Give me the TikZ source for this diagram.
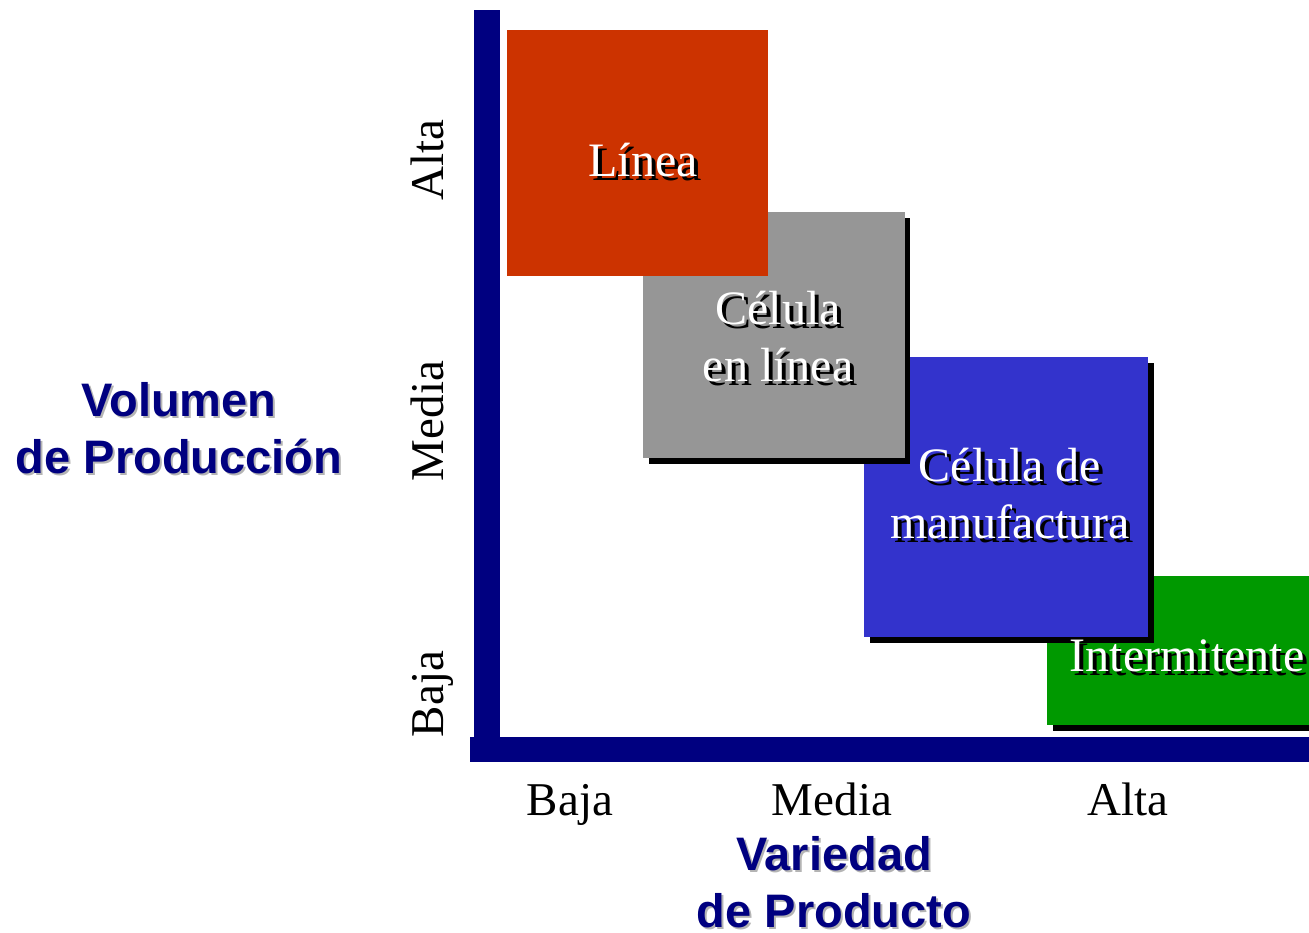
\documentclass[tikz,border=0pt]{standalone}
\usepackage{fontspec}
\setmainfont{Liberation Serif}
\setsansfont{Liberation Sans}
\definecolor{navy}{HTML}{000080}
\definecolor{cred}{HTML}{CC3300}
\definecolor{cgray}{HTML}{969696}
\definecolor{cblue}{HTML}{3333CC}
\definecolor{cgreen}{HTML}{009900}
\definecolor{tshadow}{HTML}{B4B4B4}
\begin{document}
\begin{tikzpicture}[x=1pt,y=-1pt,
  boxtxt/.style={text=white,font=\fontsize{48}{57}\selectfont,align=center,inner sep=0pt},
  boxsh/.style={text=black,font=\fontsize{48}{57}\selectfont,align=center,inner sep=0pt},
  ticklbl/.style={text=black,font=\fontsize{47}{56}\selectfont,inner sep=0pt,anchor=base},
  title/.style={text=navy,font=\sffamily\bfseries\fontsize{47}{57}\selectfont,align=center,inner sep=0pt},
  titlesh/.style={text=tshadow,font=\sffamily\bfseries\fontsize{47}{57}\selectfont,align=center,inner sep=0pt},
  shadowbox/.style={fill=black,draw=none},
]
\useasboundingbox (0,0) rectangle (1309,933);
% axes
\fill[navy] (474,10) rectangle (500,762);
\fill[navy] (470,737) rectangle (1309,762);
% green box
\fill[shadowbox] (1053,582) rectangle (1309,731);
\fill[cgreen] (1047,576) rectangle (1309,725);
% blue box
\fill[shadowbox] (870,363) rectangle (1154,643);
\fill[cblue] (864,357) rectangle (1148,637);
% gray box
\fill[shadowbox] (649,218) rectangle (910,464);
\fill[cgray] (643,212) rectangle (905,458);
% red box
\fill[cred] (507,30) rectangle (768,276);
% box texts
\node[boxsh] (s1) at (647,164) {Línea};
\node[boxtxt] (t1) at (643,160) {Línea};
\node[boxsh] (s2) at (782,341) {Célula\\en línea};
\node[boxtxt] (t2) at (778,337) {Célula\\en línea};
\node[boxsh] (s3) at (1014,498) {Célula de\\manufactura};
\node[boxtxt] (t3) at (1010,494) {Célula de\\manufactura};
\node[boxsh] (s4) at (1191,660) {Intermitente};
\node[boxtxt] (t4) at (1187,656) {Intermitente};
% y tick labels
\node[ticklbl,rotate=90] (ya) at (443,160) {Alta};
\node[ticklbl,rotate=90] (ym) at (443,421) {Media};
\node[ticklbl,rotate=90] (yb) at (443,694) {Baja};
% x tick labels
\node[ticklbl] (xb) at (570,815) {Baja};
\node[ticklbl] (xm) at (832,815) {Media};
\node[ticklbl] (xa) at (1128,815) {Alta};
% titles
\node[titlesh] (vts) at (181,430) {Volumen\\de Producción};
\node[title] (vt) at (179,428) {Volumen\\de Producción};
\node[titlesh] (hts) at (836,884) {Variedad\\de Producto};
\node[title] (ht) at (834,882) {Variedad\\de Producto};
\end{tikzpicture}
\end{document}
